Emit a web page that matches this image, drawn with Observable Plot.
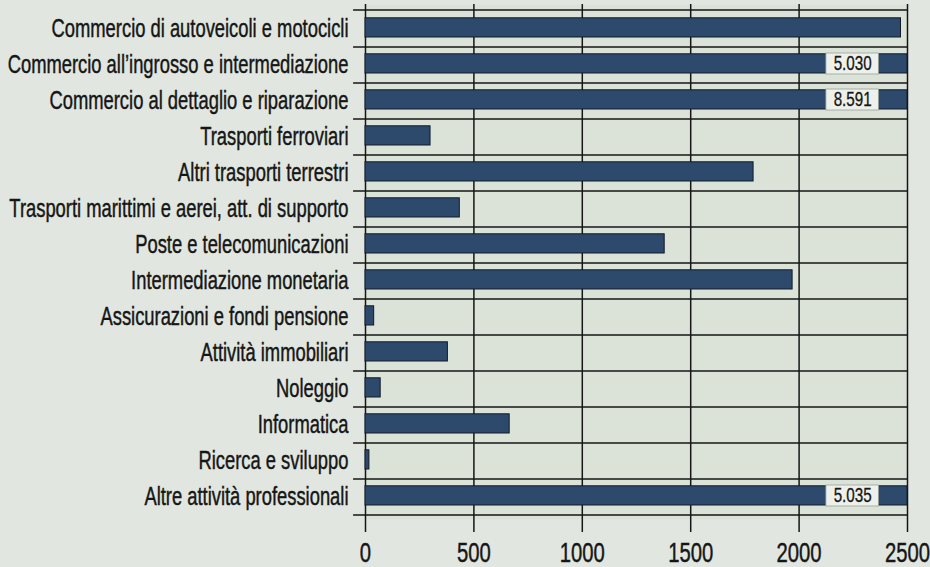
<!DOCTYPE html>
<html><head><meta charset="utf-8">
<script src="https://cdn.jsdelivr.net/npm/d3@7"></script>
<script src="https://cdn.jsdelivr.net/npm/@observablehq/plot@0.6"></script>
<style>
html,body{margin:0;padding:0;background:#e1e7e0;}
#chart svg{display:block;overflow:visible;}
</style></head><body><div id="chart"></div>
<script>
const categories = [
  "Commercio di autoveicoli e motocicli",
  "Commercio all’ingrosso e intermediazione",
  "Commercio al dettaglio e riparazione",
  "Trasporti ferroviari",
  "Altri trasporti terrestri",
  "Trasporti marittimi e aerei, att. di supporto",
  "Poste e telecomunicazioni",
  "Intermediazione monetaria",
  "Assicurazioni e fondi pensione",
  "Attività immobiliari",
  "Noleggio",
  "Informatica",
  "Ricerca e sviluppo",
  "Altre attività professionali"
];
const values = [2470, 5030, 8591, 300, 1790, 435, 1380, 1970, 40, 380, 70, 665, 18, 5035];
const xTicks = [0, 500, 1000, 1500, 2000, 2500];
const axisMax = 2500;

const data = categories.map((c, i) => ({cat: c, value: values[i]}));
const truncated = data.filter(d => d.value > axisMax);

const W = 930, H = 567, mT = 4, mB = 48, mL = 365, mR = 23;
const step = (H - mT - mB) / categories.length;
const itFmt = d3.formatLocale({decimal: ",", thousands: ".", grouping: [3], currency: ["", "€"]}).format(",");
const breakFrom = 2126, breakTo = 2368;
const FONT = "'Liberation Sans', Arial, Helvetica, sans-serif";
const ink = "#161616";

const chart = Plot.plot({
  width: W, height: H,
  marginTop: mT, marginBottom: mB, marginLeft: mL, marginRight: mR,
  style: {background: "transparent", fontFamily: FONT, color: ink},
  x: {domain: [0, axisMax]},
  y: {domain: categories, padding: 0, label: null},
  marks: [
    Plot.frame({fill: "#dbe3d9", stroke: "none"}),
    Plot.ruleX(xTicks, {stroke: ink, strokeWidth: 1.5}),
    Plot.ruleY(categories, {y: d => d, x1: -55, x2: axisMax, dy: step / 2, stroke: ink, strokeWidth: 1.5}),
    Plot.ruleY([categories[0]], {y: d => d, x1: -55, x2: axisMax, dy: -step / 2, stroke: ink, strokeWidth: 1.5}),
    Plot.barX(data, {x1: 0, x2: d => Math.min(d.value, axisMax), y: "cat", fill: "#2d4a6d", stroke: "#121a26", strokeWidth: 1, insetTop: 7.8, insetBottom: 9}),
    Plot.barX(truncated, {x1: () => breakFrom, x2: () => breakTo, y: "cat", fill: "#eef1eb", stroke: "#9aa09a", strokeWidth: 0.8, insetTop: 7, insetBottom: 8}),
    Plot.text(truncated, {x: () => (breakFrom + breakTo) / 2, y: "cat", dy: -1, text: d => itFmt(d.value), fontSize: 19.5, fill: ink}),
    Plot.axisX({ticks: xTicks, tickSize: 13, tickPadding: 10, fontSize: 27, stroke: ink, strokeWidth: 1.5, tickFormat: d => String(d)}),
    Plot.axisY({tickSize: 0, tickPadding: 17, fontSize: 25, fill: ink})
  ]
});

// emulate the condensed, slightly heavy typeface of the original: squeeze each text horizontally around its anchor
function condense(selector, s, w) {
  chart.querySelectorAll(selector).forEach(t => {
    const x = t.getAttribute("x");
    let tr = t.getAttribute("transform") || "";
    if (x !== null) { tr += ` translate(${x},0)`; t.setAttribute("x", 0); }
    t.setAttribute("transform", (tr + ` scale(${s},1)`).trim());
    t.setAttribute("stroke", ink);
    t.setAttribute("stroke-width", w);
  });
}
condense('g[aria-label="y-axis tick label"] text', 0.735, 0.45);
condense('g[aria-label="x-axis tick label"] text', 0.75, 0.45);
condense('g[aria-label="text"] text', 0.78, 0.3);
document.getElementById("chart").append(chart);
</script>
</body></html>
